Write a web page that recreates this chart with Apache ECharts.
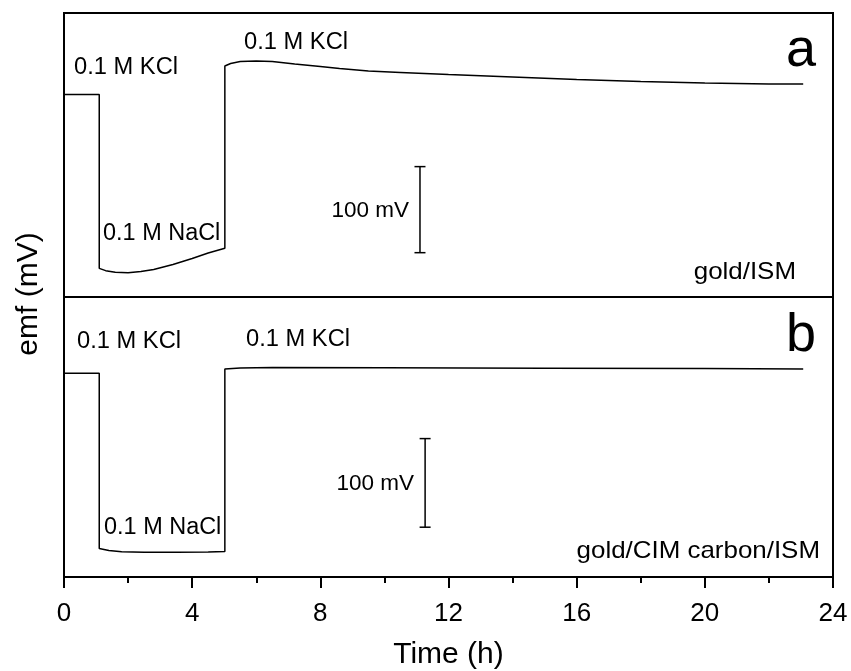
<!DOCTYPE html>
<html><head><meta charset="utf-8">
<script src="https://cdn.jsdelivr.net/npm/echarts@6/dist/echarts.min.js"></script>
<style>html,body{margin:0;padding:0;background:#fff}#c{width:851px;height:671px}</style>
</head><body><div id="c"></div>
<script>
// Panel a: gold/ISM  (time in h, emf in mV, arbitrary offset)
const timeA = [0, 1.1, 1.1, 1.3, 1.6, 2.0, 2.4, 2.8, 3.4, 4.0, 4.5, 5.02, 5.02, 5.2, 5.5, 6.0, 6.5, 7.2, 8.0, 8.6, 9.5, 10.5, 12, 14, 16, 18, 20, 22, 23.07];
const emfA  = [235.3, 235.3, 33.3, 30.6, 28.7, 28.2, 29.6, 32.0, 37.8, 44.7, 51.1, 56.6, 268.4, 271.3, 273.6, 274.2, 273.6, 270.7, 267.8, 265.5, 262.6, 260.9, 258.5, 255.6, 252.7, 250.4, 248.7, 247.5, 247.5];
// Panel b: gold/CIM carbon/ISM
const timeB = [0, 1.1, 1.1, 1.4, 1.8, 2.5, 3.5, 4.5, 5.02, 5.02, 5.5, 6.5, 10, 15, 20, 23.07];
const emfB  = [230.0, 230.0, 32.2, 30.0, 28.4, 27.8, 27.9, 28.3, 28.9, 234.8, 236.0, 236.3, 236.2, 235.7, 235.3, 234.8];
// 100 mV scale bars: [time, emf start, emf end]
const scaleBarA = [11.11, 51.5, 151.5];
const scaleBarB = [11.27, 56.2, 156.2];
const xTickInterval = 4;
const xMin = 0, xMax = 24;
const yRangeA = [0, 330];
const yRangeB = [0, 316];

const FONT = 'Liberation Sans, Arial, sans-serif';
const zip = (a, b) => a.map((t, i) => [t, b[i]]);

function renderBar(params, api) {
  const t = api.value(0), v0 = api.value(1), v1 = api.value(2);
  const p0 = api.coord([t, v0]), p1 = api.coord([t, v1]);
  const s = {stroke: '#000', lineWidth: 1.5};
  return {type: 'group', children: [
    {type: 'line', shape: {x1: p0[0], y1: p0[1], x2: p1[0], y2: p1[1]}, style: s},
    {type: 'line', shape: {x1: p0[0] - 5.5, y1: p0[1], x2: p0[0] + 5.5, y2: p0[1]}, style: s},
    {type: 'line', shape: {x1: p1[0] - 5.5, y1: p1[1], x2: p1[0] + 5.5, y2: p1[1]}, style: s},
    {type: 'text', x: p0[0] - 11, y: (p0[1] + p1[1]) / 2 + 1,
     style: {text: '100 mV', fill: '#000', font: '22.5px ' + FONT, align: 'right', verticalAlign: 'middle'}}
  ]};
}

function txt(text, x, y, size, align, sx) {
  return {type: 'text', x: x, y: y, scaleX: sx || 1, silent: true,
    style: {text: text, fill: '#000', font: size + 'px ' + FONT, align: align || 'left', verticalAlign: 'middle'}};
}

const chart = echarts.init(document.getElementById('c'), null, {renderer: 'canvas'});
chart.setOption({
  animation: false,
  backgroundColor: '#fff',
  grid: [
    {left: 64, top: 13, width: 769, height: 284, show: true, borderColor: '#000', borderWidth: 2, backgroundColor: 'transparent'},
    {left: 64, top: 297, width: 769, height: 281, show: true, borderColor: '#000', borderWidth: 2, backgroundColor: 'transparent'}
  ],
  xAxis: [
    {gridIndex: 0, type: 'value', min: xMin, max: xMax, interval: xTickInterval,
     axisLine: {show: false}, axisTick: {show: false}, axisLabel: {show: false}, splitLine: {show: false}},
    {gridIndex: 1, type: 'value', min: xMin, max: xMax, interval: xTickInterval,
     axisLine: {show: true, onZero: false, lineStyle: {color: '#000', width: 2}},
     axisTick: {show: true, inside: false, length: 11, lineStyle: {color: '#000', width: 2}},
     minorTick: {show: true, splitNumber: 2, length: 6, lineStyle: {color: '#000', width: 2}},
     axisLabel: {fontSize: 26, color: '#000', fontFamily: FONT, margin: 24},
     splitLine: {show: false}, minorSplitLine: {show: false},
     name: 'Time (h)', nameLocation: 'middle', nameGap: 63,
     nameTextStyle: {fontSize: 30, color: '#000', fontFamily: FONT}}
  ],
  yAxis: [
    {gridIndex: 0, type: 'value', min: yRangeA[0], max: yRangeA[1], show: false},
    {gridIndex: 1, type: 'value', min: yRangeB[0], max: yRangeB[1], show: false}
  ],
  series: [
    {type: 'line', xAxisIndex: 0, yAxisIndex: 0, data: zip(timeA, emfA), showSymbol: false, symbol: 'none',
     lineStyle: {color: '#000', width: 1.5}},
    {type: 'line', xAxisIndex: 1, yAxisIndex: 1, data: zip(timeB, emfB), showSymbol: false, symbol: 'none',
     lineStyle: {color: '#000', width: 1.5}},
    {type: 'custom', xAxisIndex: 0, yAxisIndex: 0, renderItem: renderBar, data: [scaleBarA], encode: {x: 0, y: [1, 2]}},
    {type: 'custom', xAxisIndex: 1, yAxisIndex: 1, renderItem: renderBar, data: [scaleBarB], encode: {x: 0, y: [1, 2]}}
  ],
  graphic: [
    txt('0.1 M KCl', 74, 68, 23, 'left', 1.03),
    txt('0.1 M KCl', 244, 43, 23, 'left', 1.03),
    txt('0.1 M NaCl', 103, 234, 23, 'left', 1.02),
    txt('gold/ISM', 796, 272, 24, 'right', 1.08),
    txt('a', 816, 51, 54, 'right', 1),
    txt('0.1 M KCl', 77, 342, 23, 'left', 1.03),
    txt('0.1 M KCl', 246, 340, 23, 'left', 1.03),
    txt('0.1 M NaCl', 104, 528, 23, 'left', 1.02),
    txt('gold/CIM carbon/ISM', 820, 551, 24, 'right', 1.08),
    txt('b', 816, 336, 54, 'right', 1),
    {type: 'text', x: 29, y: 294, rotation: Math.PI / 2, silent: true,
     style: {text: 'emf (mV)', fill: '#000', font: '30px ' + FONT, align: 'center', verticalAlign: 'middle'}}
  ]
});
</script>
</body></html>
